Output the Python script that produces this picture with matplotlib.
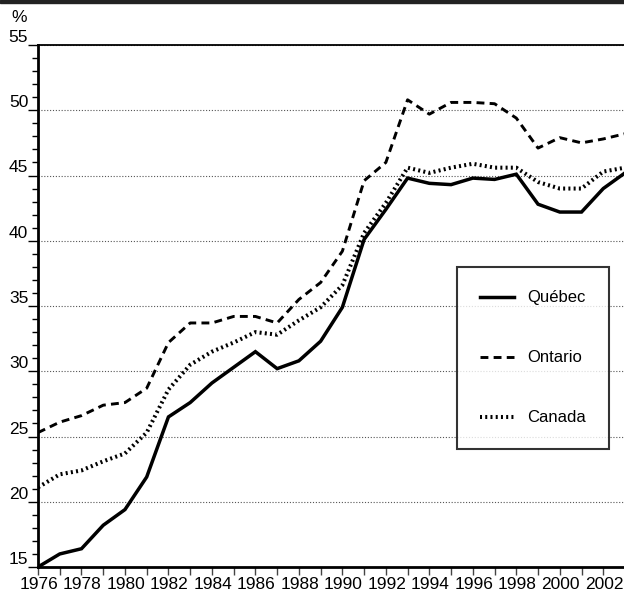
import matplotlib
matplotlib.use('Agg')
import matplotlib.pyplot as plt
import matplotlib.transforms as mtransforms
from matplotlib.patches import Rectangle

plt.rcParams['font.family'] = ['Liberation Sans', 'DejaVu Sans']

years = list(range(1976, 2004))
quebec = [15.0, 16.0, 16.4, 18.2, 19.4, 21.9, 26.5, 27.6, 29.1, 30.3, 31.5, 30.2, 30.8, 32.3,
          34.9, 40.1, 42.4, 44.8, 44.4, 44.3, 44.8, 44.7, 45.1, 42.8, 42.2, 42.2, 44.0, 45.2]
ontario = [25.3, 26.1, 26.6, 27.4, 27.6, 28.7, 32.2, 33.7, 33.7, 34.2, 34.2, 33.7, 35.5, 36.8,
           39.2, 44.6, 46.0, 50.8, 49.7, 50.6, 50.6, 50.5, 49.4, 47.1, 47.9, 47.5, 47.8, 48.2]
canada = [21.1, 22.1, 22.4, 23.1, 23.7, 25.3, 28.6, 30.5, 31.5, 32.2, 33.0, 32.8, 33.9, 34.9,
          36.6, 40.6, 42.9, 45.6, 45.2, 45.6, 45.9, 45.6, 45.6, 44.5, 44.0, 44.0, 45.3, 45.6]
series_names = ['Québec', 'Ontario', 'Canada']
y_ticks = [15, 20, 25, 30, 35, 40, 45, 50, 55]

fig = plt.figure(figsize=(6.24, 5.96), dpi=100)
ax = fig.add_axes([38 / 624, 1 - 567 / 596, 587 / 624, (567 - 45) / 596])

# dark band at the very top
fig.patches.append(Rectangle((0, 1 - 3 / 596), 1, 3 / 596, transform=fig.transFigure,
                             color='#222222', zorder=0))

# grid
for v in y_ticks[1:]:
    ax.axhline(v, color='#555555', lw=0.8, linestyle=(0, (1, 1.6)), zorder=1)

ax.plot(years, quebec, color='black', lw=2.5, solid_joinstyle='miter', label=series_names[0], zorder=3)
ax.plot(years, ontario, color='black', lw=2.1, linestyle=(0, (2.7, 1.8)), label=series_names[1], zorder=3)
ax.plot(years, canada, color='black', lw=2.9, linestyle=(0, (0.5, 0.8)), label=series_names[2], zorder=3)

ax.set_xlim(1976, 2003)
ax.set_ylim(15, 55)
ax.set_xticks(years, minor=True)
ax.set_xticks(list(range(1976, 2003, 2)))
ax.set_xticklabels([str(y) for y in range(1976, 2003, 2)])
ax.set_yticks(y_ticks)
ax.set_yticks(list(range(15, 56)), minor=True)

ax.tick_params(axis='x', which='both', direction='out', length=6, width=1, color='#444444',
               labelsize=12.5, pad=1)
ax.tick_params(axis='y', which='major', direction='out', length=7, width=1, labelsize=12.5, pad=0)
ax.tick_params(axis='y', which='minor', direction='out', length=4, width=1)

for lab in ax.get_yticklabels():
    lab.set_verticalalignment('bottom')
off = mtransforms.ScaledTranslation(1 / 100, 0, fig.dpi_scale_trans)
for lab in ax.get_xticklabels():
    lab.set_transform(lab.get_transform() + off)

for side in ['left', 'bottom']:
    ax.spines[side].set_linewidth(2)
ax.spines['top'].set_linewidth(1.3)
ax.spines['right'].set_visible(False)

fig.text(19 / 624, 1 - 18 / 596, '%', fontsize=12.5, ha='center', va='center')

leg = ax.legend(loc='upper left', bbox_to_anchor=(457 / 624, 1 - 267 / 596),
                bbox_transform=fig.transFigure, fontsize=12, frameon=True, fancybox=False,
                borderpad=1.4, labelspacing=2.7, handlelength=2.0, handletextpad=0.8,
                borderaxespad=0)
leg.get_frame().set_edgecolor('black')
leg.get_frame().set_linewidth(1.5)

fig.savefig('out.png', dpi=100)
